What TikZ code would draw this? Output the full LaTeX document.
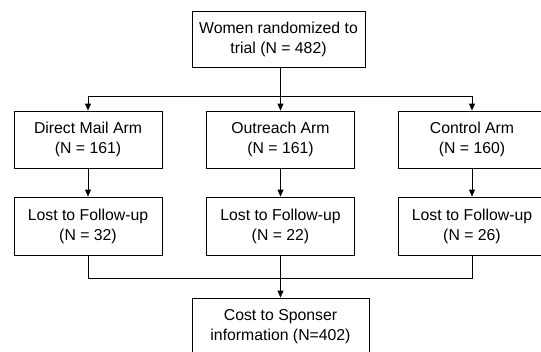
\documentclass[tikz,border=0pt]{standalone}
\usepackage{fontspec}
\setmainfont{Liberation Sans}
\usetikzlibrary{arrows.meta, positioning, calc}

\begin{document}
\begin{tikzpicture}[x=1pt, y=-1pt, >={Triangle[length=7pt,width=6pt]},
  every node/.style={font=\fontsize{15.8}{20}\selectfont},
  box/.style={draw, line width=0.9pt, align=center, inner sep=0pt, minimum width=148pt, minimum height=57pt},
  link/.style={line width=0.9pt}]

\clip (0,0) rectangle (541,351);

% Enrolment
\node[box, minimum width=173pt, minimum height=56pt] (trial) at (278.5,39) {Women randomized to\\trial (N = 482)};

% Study arms
\node[box] (mail) at (88,139.5) {Direct Mail Arm\\(N = 161)};
\node[box] (outreach) at (280.5,139.5) {Outreach Arm\\(N = 161)};
\node[box] (control) at (472,139.5) {Control Arm\\(N = 160)};

% Lost to follow-up
\node[box, minimum height=58pt] (lostA) at (88,226) {Lost to Follow-up\\(N = 32)};
\node[box, minimum height=58pt] (lostB) at (280.5,226) {Lost to Follow-up\\(N = 22)};
\node[box, minimum height=58pt] (lostC) at (472,226) {Lost to Follow-up\\(N = 26)};

% Final count
\node[box, minimum width=177pt] (cost) at (280.5,326.5) {Cost to Sponser\\information (N=402)};

% Split and merge points
\coordinate (split) at (280.5,96);
\coordinate (merge) at (280.5,278);

% Connections: Enrolment -> Arms
\draw[link] (trial.south -| split) -- (split);
\foreach \i in {mail,outreach,control} {
  \draw[link,->] (split) -| (\i.north);
}

% Connections: Arms -> Lost
\draw[link,->] (mail) -- (lostA);
\draw[link,->] (outreach) -- (lostB);
\draw[link,->] (control) -- (lostC);

% Connections: Lost -> Final
\draw[link] (lostA.south) |- (merge);
\draw[link] (lostC.south) |- (merge);
\draw[link,->] (lostB) -- (cost);

\end{tikzpicture}
\end{document}
